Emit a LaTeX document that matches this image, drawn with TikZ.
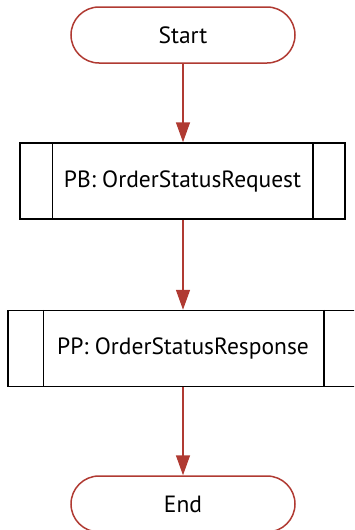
\documentclass[tikz,border=0pt]{standalone}
\usepackage{fontspec}
\setmainfont{PT Sans}
\usetikzlibrary{arrows.meta}
\definecolor{flowred}{HTML}{B03A32}
\tikzset{
  term/.style={draw=flowred, line width=1.5pt, rounded corners=28pt, minimum width=224pt, minimum height=56pt, inner sep=0pt, font=\fontsize{23.5}{25}\selectfont, fill=white},
  proc/.style={draw=black, line width=1.5pt, minimum height=76pt, inner sep=0pt, font=\fontsize{23.5}{25}\selectfont, fill=white},
  divider/.style={draw=black, line width=1.5pt},
  flow/.style={draw=flowred, line width=1.5pt, -{Triangle[length=20pt,width=14pt]}, color=flowred}
}
\begin{document}
\begin{tikzpicture}[x=1pt,y=1pt]
\useasboundingbox (0,0) rectangle (354,-530);
\begin{scope}
\clip (0,0) rectangle (354,-530);
\node[term] (start) at (183,-35) {Start};
\node[proc, minimum width=325pt] (pb) at (182.5,-181) {PB: OrderStatusRequest};
\draw[divider] ([xshift=33pt]pb.north west) -- ([xshift=33pt]pb.south west);
\draw[divider] ([xshift=-33pt]pb.north east) -- ([xshift=-33pt]pb.south east);
\node[proc, minimum width=350pt] (pp) at (183,-348.5) {PP: OrderStatusResponse};
\draw[divider] ([xshift=36pt]pp.north west) -- ([xshift=36pt]pp.south west);
\draw[divider] ([xshift=-35pt]pp.north east) -- ([xshift=-35pt]pp.south east);
\node[term] (end) at (183,-504) {End};
\draw[flow] (start.south) -- (pb.north -| start.south);
\draw[flow] (pb.south -| start.south) -- (pp.north -| start.south);
\draw[flow] (pp.south -| start.south) -- (end.north);
\end{scope}
\end{tikzpicture}
\end{document}
